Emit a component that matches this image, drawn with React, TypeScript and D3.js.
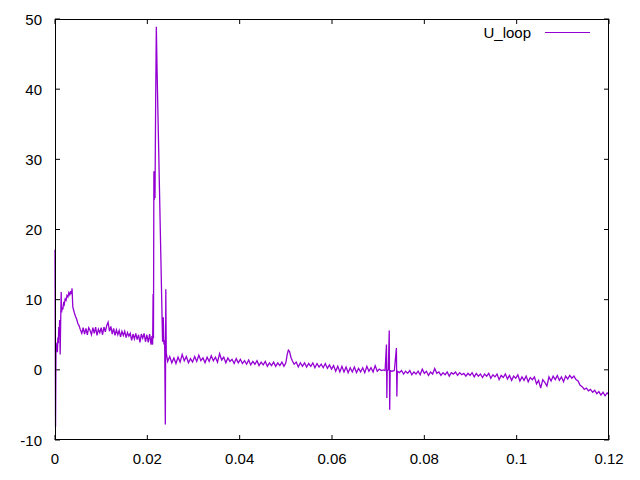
import React from "react";
import * as d3 from "d3";

// time in milliseconds, U_loop value
const samples: [number, number][] = [
  [0.0, 17.1], [0.12, -8.1], [0.22, 3.6], [0.32, 2.7], [0.42, 3.9], [0.52, 2.5], [0.62, 4.6], [0.72, 3.8],
  [0.82, 6.1], [0.92, 5.0], [1.0, 7.1], [1.12, 2.2], [1.22, 6.5], [1.34, 11.1], [1.42, 8.2], [1.55, 8.9],
  [1.7, 8.6], [1.85, 9.5], [2.0, 9.3], [2.2, 10.1], [2.4, 9.9], [2.6, 10.6], [2.8, 10.4], [3.0, 11.0],
  [3.2, 10.7], [3.4, 11.2], [3.55, 10.8], [3.7, 11.6], [3.85, 9.0], [4.0, 8.6], [4.2, 8.1], [4.45, 7.6],
  [4.7, 7.2], [4.95, 6.6], [5.2, 6.3], [5.45, 5.8],
  [5.8, 5.2], [6.1, 6.0], [6.4, 5.1], [6.7, 5.9], [7.0, 5.0], [7.3, 6.0], [7.6, 5.6], [7.9, 5.0],
  [8.2, 6.0], [8.5, 5.2], [8.8, 6.1], [9.1, 4.9], [9.4, 5.8], [9.7, 5.3], [10.0, 6.0], [10.3, 5.0],
  [10.6, 6.1], [10.9, 5.4], [11.2, 6.3], [11.5, 6.8], [11.8, 5.5], [12.1, 6.2], [12.4, 5.1], [12.7, 5.9],
  [13.0, 4.9], [13.3, 5.7], [13.6, 5.0], [13.9, 5.6], [14.2, 4.7], [14.5, 5.5], [14.8, 4.9], [15.1, 5.5],
  [15.4, 4.6], [15.7, 5.3], [16.0, 4.8], [16.3, 5.2], [16.6, 4.2], [16.9, 5.1], [17.2, 4.4], [17.5, 5.2],
  [17.8, 4.3], [18.1, 5.0], [18.4, 3.9], [18.7, 5.1], [19.0, 4.5], [19.3, 5.2], [19.6, 4.0], [19.9, 5.0],
  [20.2, 3.9], [20.5, 5.1], [20.8, 3.6], [21.0, 4.8],
  [21.15, 3.6], [21.25, 10.8], [21.33, 4.5], [21.42, 28.3], [21.5, 24.2], [21.58, 28.0], [21.66, 24.5],
  [21.8, 38.0], [21.95, 48.9], [22.1, 43.0], [23.3, 4.0], [23.45, 7.5], [23.6, 3.6], [23.75, 4.2],
  [23.9, -7.8], [24.0, 11.5], [24.1, 2.4], [24.25, 1.8],
  [24.4, 1.2], [24.85, 1.9], [25.3, 1.0], [25.75, 1.7], [26.2, 0.9], [26.65, 1.8], [27.1, 1.1], [27.55, 2.2],
  [28.0, 1.3], [28.45, 1.9], [28.9, 1.0], [29.35, 1.6], [29.8, 1.1], [30.25, 1.9], [30.7, 1.2], [31.15, 2.1],
  [31.6, 1.3], [32.05, 1.7], [32.5, 1.0], [32.95, 1.8], [33.4, 1.2], [33.85, 2.0], [34.3, 1.3], [34.75, 1.8],
  [35.2, 1.1], [35.65, 2.3], [36.1, 1.4], [36.55, 1.8], [37.0, 1.0], [37.45, 1.7], [37.9, 1.2], [38.35, 1.5],
  [38.8, 0.9], [39.25, 1.6], [39.7, 1.0], [40.15, 1.5], [40.6, 0.9], [41.05, 1.3], [41.5, 0.8], [41.95, 1.4],
  [42.4, 0.7], [42.85, 1.2], [43.3, 0.8], [43.75, 1.3], [44.2, 0.6], [44.65, 1.1], [45.1, 0.7], [45.55, 1.2],
  [46.0, 0.5], [46.45, 1.0], [46.9, 0.6], [47.35, 1.1], [47.8, 0.5], [48.25, 1.0], [48.7, 0.6], [49.15, 1.1],
  [49.6, 0.5], [50.0, 1.0], [50.3, 2.2], [50.55, 2.8], [50.8, 2.6], [51.1, 1.8], [51.4, 1.3], [51.8, 0.8],
  [52.25, 1.1], [52.7, 0.4], [53.15, 1.0], [53.6, 0.5], [54.05, 1.0], [54.5, 0.4], [54.95, 0.9], [55.4, 0.5],
  [55.85, 1.0], [56.3, 0.3], [56.75, 0.9], [57.2, 0.4], [57.65, 0.8], [58.1, 0.3], [58.55, 0.9], [59.0, 0.2],
  [59.45, 0.7], [59.9, 0.1], [60.35, 0.6], [60.8, -0.2], [61.25, 0.5], [61.7, -0.3], [62.15, 0.5], [62.6, -0.3],
  [63.05, 0.4], [63.5, -0.4], [63.95, 0.3], [64.4, -0.3], [64.85, 0.4], [65.3, -0.4], [65.75, 0.2], [66.2, -0.3],
  [66.65, 0.3], [67.1, -0.4], [67.55, 0.5], [68.0, -0.2], [68.45, 0.3], [68.9, -0.3], [69.35, 0.6], [69.8, -0.2],
  [70.25, 0.1], [70.7, -0.1], [71.15, 0.0], [71.5, -0.1],
  [71.8, 3.6], [71.88, -4.0], [71.96, -0.1], [72.2, 0.0], [72.4, 5.6], [72.5, -5.7], [72.6, -0.1],
  [73.0, -0.2], [73.5, -0.1], [73.95, 3.1], [74.05, -3.8], [74.15, -0.2],
  [74.6, -0.4], [75.05, -0.1], [75.5, -0.6], [75.95, -0.2], [76.4, -0.5], [76.85, -0.1], [77.3, -0.7], [77.75, -0.3],
  [78.2, -0.6], [78.65, -0.2], [79.1, -0.7], [79.55, 0.1], [80.0, -0.5], [80.45, -0.2], [80.9, -0.8], [81.35, -0.3],
  [81.8, -0.6], [82.25, 0.2], [82.7, -0.5], [83.15, -0.3], [83.6, -0.8], [84.05, -0.4], [84.5, -0.7], [84.95, -0.3],
  [85.4, -0.9], [85.85, -0.4], [86.3, -0.6], [86.75, -0.3], [87.2, -0.8], [87.65, -0.4], [88.1, -0.7], [88.55, -0.5],
  [89.0, -0.9], [89.45, -0.5], [89.9, -0.8], [90.35, -0.4], [90.8, -1.0], [91.25, -0.5], [91.7, -0.9], [92.15, -0.6],
  [92.6, -1.1], [93.05, -0.6], [93.5, -0.9], [93.95, -0.5], [94.4, -1.2], [94.85, -0.7], [95.3, -1.0], [95.75, -0.6],
  [96.2, -1.4], [96.65, -0.8], [97.1, -1.1], [97.55, -0.6], [98.0, -1.3], [98.45, -0.8], [98.9, -1.5], [99.35, -0.9],
  [99.8, -1.2], [100.25, -0.7], [100.7, -1.6], [101.15, -1.0], [101.6, -1.5], [102.05, -0.9], [102.5, -1.7], [102.95, -1.1],
  [103.4, -1.4], [103.85, -1.0], [104.3, -2.0], [104.75, -1.5], [105.2, -2.6], [105.65, -1.4], [106.1, -1.8], [106.55, -2.3],
  [107.0, -1.0], [107.45, -1.6], [107.9, -0.9], [108.35, -1.4], [108.8, -0.8], [109.25, -1.5], [109.7, -1.0], [110.15, -1.7],
  [110.6, -0.9], [111.05, -1.3], [111.5, -0.8], [111.95, -1.2], [112.4, -0.9], [112.85, -1.4], [113.3, -1.6], [113.75, -2.2],
  [114.2, -2.4], [114.65, -2.8], [115.1, -2.6], [115.55, -3.0], [116.0, -2.8], [116.45, -3.2], [116.9, -2.9], [117.35, -3.4],
  [117.8, -3.1], [118.25, -3.6], [118.7, -3.2], [119.15, -3.7], [119.6, -3.3], [120.0, -3.5],
];

const xTicks = [0, 0.02, 0.04, 0.06, 0.08, 0.1, 0.12];
const xTickLabels = ["0", "0.02", "0.04", "0.06", "0.08", "0.1", "0.12"];
const yTicks = [-10, 0, 10, 20, 30, 40, 50];
const seriesName = "U_loop";

const W = 640;
const H = 480;
const L = 55, R = 609, T = 19, B = 440;
const FONT = "'Liberation Sans', Arial, sans-serif";
const COLOR = "#9400d3";
const TICK = 5;

export default function App() {
  const x = d3.scaleLinear().domain([0, 0.12]).range([L, R]);
  const y = d3.scaleLinear().domain([-10, 50]).range([B, T]);
  const line = d3
    .line<[number, number]>()
    .x((d) => x(d[0] / 1000))
    .y((d) => y(d[1]));
  const path = line(samples) || "";

  return (
    <svg
      width={W}
      height={H}
      style={{ position: "absolute", left: 0, top: 0, background: "#fff" }}
      fontFamily={FONT}
      fontSize={15}
    >
      <rect x={0} y={0} width={W} height={H} fill="#fff" />
      {yTicks.map((v) => (
        <g key={"y" + v}>
          <line x1={L} x2={L + TICK} y1={y(v)} y2={y(v)} stroke="#000" />
          <line x1={R} x2={R - TICK} y1={y(v)} y2={y(v)} stroke="#000" />
          <text x={42} y={y(v)} textAnchor="end" dominantBaseline="central" fill="#000">
            {v}
          </text>
        </g>
      ))}
      {xTicks.map((v, i) => (
        <g key={"x" + v}>
          <line x1={x(v)} x2={x(v)} y1={B} y2={B - TICK} stroke="#000" />
          <line x1={x(v)} x2={x(v)} y1={T} y2={T + TICK} stroke="#000" />
          <text x={x(v)} y={464} textAnchor="middle" fill="#000">
            {xTickLabels[i]}
          </text>
        </g>
      ))}
      <path d={path} fill="none" stroke={COLOR} strokeWidth={1.3} strokeLinejoin="miter" />
      <text x={531} y={38} textAnchor="end" fill="#000">
        {seriesName}
      </text>
      <line x1={545} x2={590} y1={32.5} y2={32.5} stroke={COLOR} strokeWidth={1} />
      <rect x={L + 0.5} y={T + 0.5} width={R - L - 1} height={B - T - 1} fill="none" stroke="#000" strokeWidth={1} />
    </svg>
  );
}
